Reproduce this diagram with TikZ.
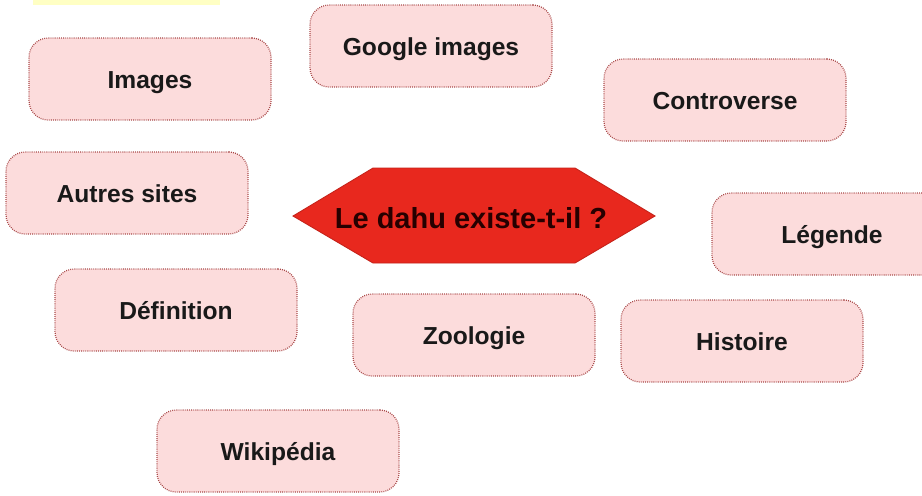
\documentclass[tikz,border=0pt]{standalone}
\usepackage{fontspec}
\setmainfont{Liberation Sans}
\definecolor{boxpink}{HTML}{FCDCDC}
\definecolor{boxline}{HTML}{A84848}
\definecolor{hexred}{HTML}{E8281E}
\definecolor{notey}{HTML}{FFFFC4}
\tikzset{
  topic/.style={fill=boxpink, draw=boxline, line width=0.7pt, dash pattern=on 0.5pt off 0.7pt,
    rounded corners=11pt, minimum width=242*0.02cm, minimum height=82*0.02cm,
    text height=14pt, text depth=3pt,
    font=\fontsize{14}{16}\bfseries, text=black!90}
}
\begin{document}
\begin{tikzpicture}[x=0.02cm, y=-0.02cm]
\clip (0,0) rectangle (922,495);
\fill[white] (0,0) rectangle (922,495);
% Note strip
\fill[notey] (33,0) rectangle (220,5);
% Question
\filldraw[fill=hexred, draw=hexred!85!black, line width=0.5pt] (293,216) -- (373,168) -- (575,168) -- (655,216) -- (575,263) -- (373,263) -- cycle;
\node[font=\fontsize{16.5}{19}\bfseries, text=black!85!red] (question) at (471,218) {Le dahu existe-t-il ?};
% Topics
\node[topic] (images) at (150,79) {Images};
\node[topic] (google) at (431,46) {Google images};
\node[topic] (controverse) at (725,100) {Controverse};
\node[topic] (autres) at (127,193) {Autres sites};
\node[topic, text width=222*0.02cm, align=right] (legende) at (833,234) {Légende\hspace*{35pt}};
\node[topic] (definition) at (176,310) {Définition};
\node[topic] (zoologie) at (474,335) {Zoologie};
\node[topic] (histoire) at (742,341) {Histoire};
\node[topic] (wikipedia) at (278,451) {Wikipédia};
\end{tikzpicture}
\end{document}
